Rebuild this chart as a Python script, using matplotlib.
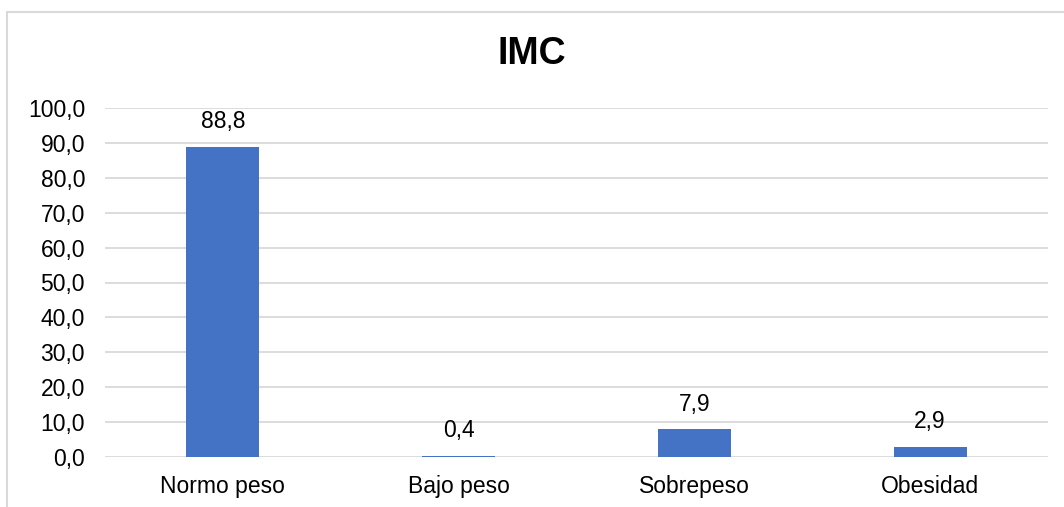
import matplotlib
matplotlib.use("Agg")
import matplotlib.pyplot as plt
from matplotlib.ticker import FuncFormatter, MultipleLocator
from matplotlib.patches import Rectangle

categories = ["Normo peso", "Bajo peso", "Sobrepeso", "Obesidad"]
values = [88.8, 0.4, 7.9, 2.9]
title = "IMC"

plt.rcParams['font.family'] = ['Liberation Sans', 'DejaVu Sans']

fig = plt.figure(figsize=(10.64, 5.07), dpi=100)
ax = fig.add_axes([105/1064, 1-457/507, (1048-105)/1064, (457-108)/507])

x = range(len(categories))
bars = ax.bar(x, values, width=0.31, color="#4472C4", zorder=3)
for xi, v in zip(x, values):
    ax.annotate(f"{v:.1f}".replace(".", ","), (xi, v), xytext=(0, 10),
                textcoords="offset points", ha="center", va="bottom",
                fontsize=16.5, color="#000000")

ax.set_xlim(-0.5, len(categories) - 0.5)
ax.set_ylim(0, 100)
ax.yaxis.set_major_locator(MultipleLocator(10))
ax.yaxis.set_major_formatter(FuncFormatter(lambda v, p: f"{v:.1f}".replace(".", ",")))
ax.set_xticks(list(x))
ax.set_xticklabels(categories)
ax.grid(axis="y", color="#d9d9d9", linewidth=1.3, zorder=0)
ax.tick_params(axis="both", length=0, labelsize=16.5, colors="#000000")
ax.tick_params(axis="y", pad=14.4)
ax.tick_params(axis="x", pad=13)
for s in ax.spines.values():
    s.set_visible(False)

fig.text(0.5, 1-54/507, title, ha="center", va="center", fontsize=27, fontweight="bold")

fig.patches.append(Rectangle((7/1064, -0.1), 2, 1-11.5/507+0.1, transform=fig.transFigure,
                             fill=False, edgecolor="#d9d9d9", linewidth=1.5))

fig.savefig("out.png", dpi=100)
